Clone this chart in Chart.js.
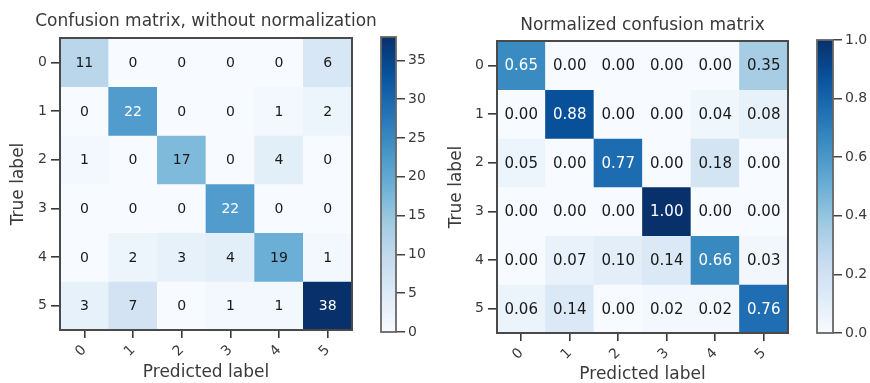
<!DOCTYPE html>
<html><head><meta charset="utf-8">
<script src="https://cdn.jsdelivr.net/npm/chart.js@4.4.0/dist/chart.umd.min.js"></script>
<style>
html,body{margin:0;padding:0;background:#fff;width:870px;height:383px;overflow:hidden;}
.box{position:absolute;top:0;height:383px;}
</style></head><body>
<div class="box" style="left:0;width:412px"><canvas id="m1"></canvas></div>
<div class="box" style="left:370px;width:70px"><canvas id="c1"></canvas></div>
<div class="box" style="left:440px;width:355px"><canvas id="m2"></canvas></div>
<div class="box" style="left:800px;width:70px"><canvas id="c2"></canvas></div>
<script>
const classes = ['0', '1', '2', '3', '4', '5'];
const counts = [
  [11, 0, 0, 0, 0, 6],
  [0, 22, 0, 0, 1, 2],
  [1, 0, 17, 0, 4, 0],
  [0, 0, 0, 22, 0, 0],
  [0, 2, 3, 4, 19, 1],
  [3, 7, 0, 1, 1, 38]
];
const normalized = [
  [0.65, 0.00, 0.00, 0.00, 0.00, 0.35],
  [0.00, 0.88, 0.00, 0.00, 0.04, 0.08],
  [0.05, 0.00, 0.77, 0.00, 0.18, 0.00],
  [0.00, 0.00, 0.00, 1.00, 0.00, 0.00],
  [0.00, 0.07, 0.10, 0.14, 0.66, 0.03],
  [0.06, 0.14, 0.00, 0.02, 0.02, 0.76]
];
const countMax = 38;
const normMax = 1.0;
const countTicks = [0, 5, 10, 15, 20, 25, 30, 35];
const normTicks = [0.0, 0.2, 0.4, 0.6, 0.8, 1.0];
const titles = ['Confusion matrix, without normalization', 'Normalized confusion matrix'];

// matplotlib "Blues" colormap nodes
const bluesNodes = [
  [247,251,255],[222,235,247],[198,219,239],[158,202,225],[107,174,214],
  [66,146,198],[33,113,181],[8,81,156],[8,48,107]
];
function blues(t) {
  t = Math.max(0, Math.min(1, t));
  const p = t * (bluesNodes.length - 1);
  const i = Math.min(Math.floor(p), bluesNodes.length - 2);
  const f = p - i;
  const a = bluesNodes[i], b = bluesNodes[i + 1];
  const c = a.map((v, k) => Math.round(v + (b[k] - v) * f));
  return `rgb(${c[0]},${c[1]},${c[2]})`;
}

const FONT = 'DejaVu Sans';
const TXT = '#3a3a3a';

const framePlugin = {
  id: 'frame',
  afterDraw(chart, args, opts) {
    const {ctx, chartArea: a} = chart;
    ctx.save();
    ctx.strokeStyle = opts.color || '#444';
    ctx.lineWidth = opts.width || 1.5;
    ctx.strokeRect(a.left, a.top, a.right - a.left, a.bottom - a.top);
    ctx.restore();
  }
};

const cellTextPlugin = {
  id: 'cellText',
  afterDatasetsDraw(chart, args, opts) {
    const ctx = chart.ctx;
    ctx.save();
    ctx.font = `${opts.size}px "${FONT}"`;
    ctx.textAlign = 'center';
    ctx.textBaseline = 'middle';
    chart.data.datasets.forEach((ds, i) => {
      const meta = chart.getDatasetMeta(i);
      meta.data.forEach((el, j) => {
        const v = ds.values[j];
        const p = el.getProps(['x', 'y', 'base'], true);
        ctx.fillStyle = v > opts.thresh ? '#fff' : '#1a1a1a';
        ctx.fillText(opts.fmt(v), p.x, (p.y + p.base) / 2 + 1);
      });
    });
    ctx.restore();
  }
};

function matrixChart(id, matrix, vmax, fmt, lay) {
  const datasets = matrix.map((row, r) => ({
    data: row.map(() => [r - 0.5, r + 0.5]),
    values: row,
    backgroundColor: row.map(v => blues(v / vmax)),
    borderWidth: 0,
    barPercentage: 1,
    categoryPercentage: 1,
    grouped: false
  }));
  const scales = {
    x: {
      type: 'category',
      grid: {display: true, offset: false, drawOnChartArea: false, drawTicks: true, tickLength: 8, color: '#3a3a3a', lineWidth: 1.6},
      border: {display: false},
      ticks: {autoSkip: false, minRotation: 45, maxRotation: 45, color: TXT, font: {family: FONT, size: 14}, padding: 4},
      title: {display: true, text: 'Predicted label', color: TXT, font: {family: FONT, size: 17, lineHeight: 1.2}, padding: {top: 0, bottom: lay.xTitleBottom}},
      afterFit(a) { a.height = lay.xAxisH; }
    },
    y: {
      type: 'linear',
      reverse: true,
      min: -0.5,
      max: 5.5,
      afterBuildTicks(a) { a.ticks = classes.map((c, i) => ({value: i})); },
      grid: {display: true, drawOnChartArea: false, drawTicks: true, tickLength: 9, color: '#3a3a3a', lineWidth: 1.6},
      border: {display: false},
      ticks: {autoSkip: false, color: TXT, font: {family: FONT, size: 14}, padding: 4,
        callback: v => classes[v]},
      title: {display: true, text: 'True label', color: TXT, font: {family: FONT, size: 17, lineHeight: 1.2}, padding: {top: lay.yTitleTop, bottom: 0}},
      afterFit(a) { a.width = lay.yAxisW; }
    }
  };
  if (lay.rightGap) {
    // empty spacer axis on the right so the full-width title is centred over the matrix
    scales.spacer = {
      type: 'linear', position: 'right', display: true,
      grid: {display: false}, border: {display: false}, ticks: {display: false},
      afterFit(a) { a.width = lay.rightGap; }
    };
  }
  return new Chart(document.getElementById(id), {
    type: 'bar',
    data: {labels: classes, datasets},
    plugins: [framePlugin, cellTextPlugin],
    options: {
      responsive: true,
      maintainAspectRatio: false,
      animation: false,
      layout: {padding: {left: 0, right: lay.padRight, top: 0, bottom: 0}},
      plugins: {
        legend: {display: false},
        tooltip: {enabled: false},
        title: {display: true, fullSize: lay.titleFull, text: lay.title, color: TXT,
          font: {family: FONT, size: 17, weight: 'normal', lineHeight: 1.2},
          padding: {top: lay.titleTop, bottom: lay.titleBottom}},
        frame: {color: '#4a4a4a', width: 2},
        cellText: {size: lay.cellSize, thresh: vmax / 2, fmt}
      },
      scales
    }
  });
}

function colorbarChart(id, vmax, tickVals, fmt, lay) {
  return new Chart(document.getElementById(id), {
    type: 'bar',
    data: {labels: [''], datasets: [{
      data: [[0, vmax]],
      borderWidth: 0,
      barPercentage: 1,
      categoryPercentage: 1,
      backgroundColor(ctx) {
        const a = ctx.chart.chartArea;
        if (!a) return blues(0.5);
        const g = ctx.chart.ctx.createLinearGradient(0, a.bottom, 0, a.top);
        bluesNodes.forEach((c, i) => g.addColorStop(i / (bluesNodes.length - 1), `rgb(${c[0]},${c[1]},${c[2]})`));
        return g;
      }
    }]},
    plugins: [framePlugin],
    options: {
      responsive: true,
      maintainAspectRatio: false,
      animation: false,
      layout: {padding: {left: lay.padLeft, right: 0, top: lay.top, bottom: lay.bottom}},
      plugins: {legend: {display: false}, tooltip: {enabled: false}, frame: {color: '#666', width: 1.8}},
      scales: {
        x: {display: false},
        y: {
          position: 'right',
          min: 0,
          max: vmax,
          afterBuildTicks(a) { a.ticks = tickVals.map(v => ({value: v})); },
          grid: {display: true, drawOnChartArea: false, drawTicks: true, tickLength: 9, color: '#444', lineWidth: 1.5},
          border: {display: false},
          ticks: {color: TXT, font: {family: FONT, size: 14}, padding: 3, callback: v => fmt(v)},
          afterFit(a) { a.width = lay.axisW; }
        }
      }
    }
  });
}

matrixChart('m1', counts, countMax, v => String(v), {
  title: titles[0], titleFull: true, padRight: 0, rightGap: 60, titleTop: 11, titleBottom: 6.6, cellSize: 14,
  xAxisH: 53, xTitleBottom: 0, yAxisW: 60, yTitleTop: 8
});
colorbarChart('c1', countMax, countTicks, v => String(v), {padLeft: 11, top: 37, bottom: 51, axisW: 44});
matrixChart('m2', normalized, normMax, v => v.toFixed(2), {
  title: titles[1], titleFull: false, padRight: 7, rightGap: 0, titleTop: 15.5, titleBottom: 5.1, cellSize: 15,
  xAxisH: 50, xTitleBottom: -2, yAxisW: 57, yTitleTop: 6
});
colorbarChart('c2', normMax, normTicks, v => v.toFixed(1), {padLeft: 17, top: 40, bottom: 50, axisW: 37});
</script>
</body></html>
